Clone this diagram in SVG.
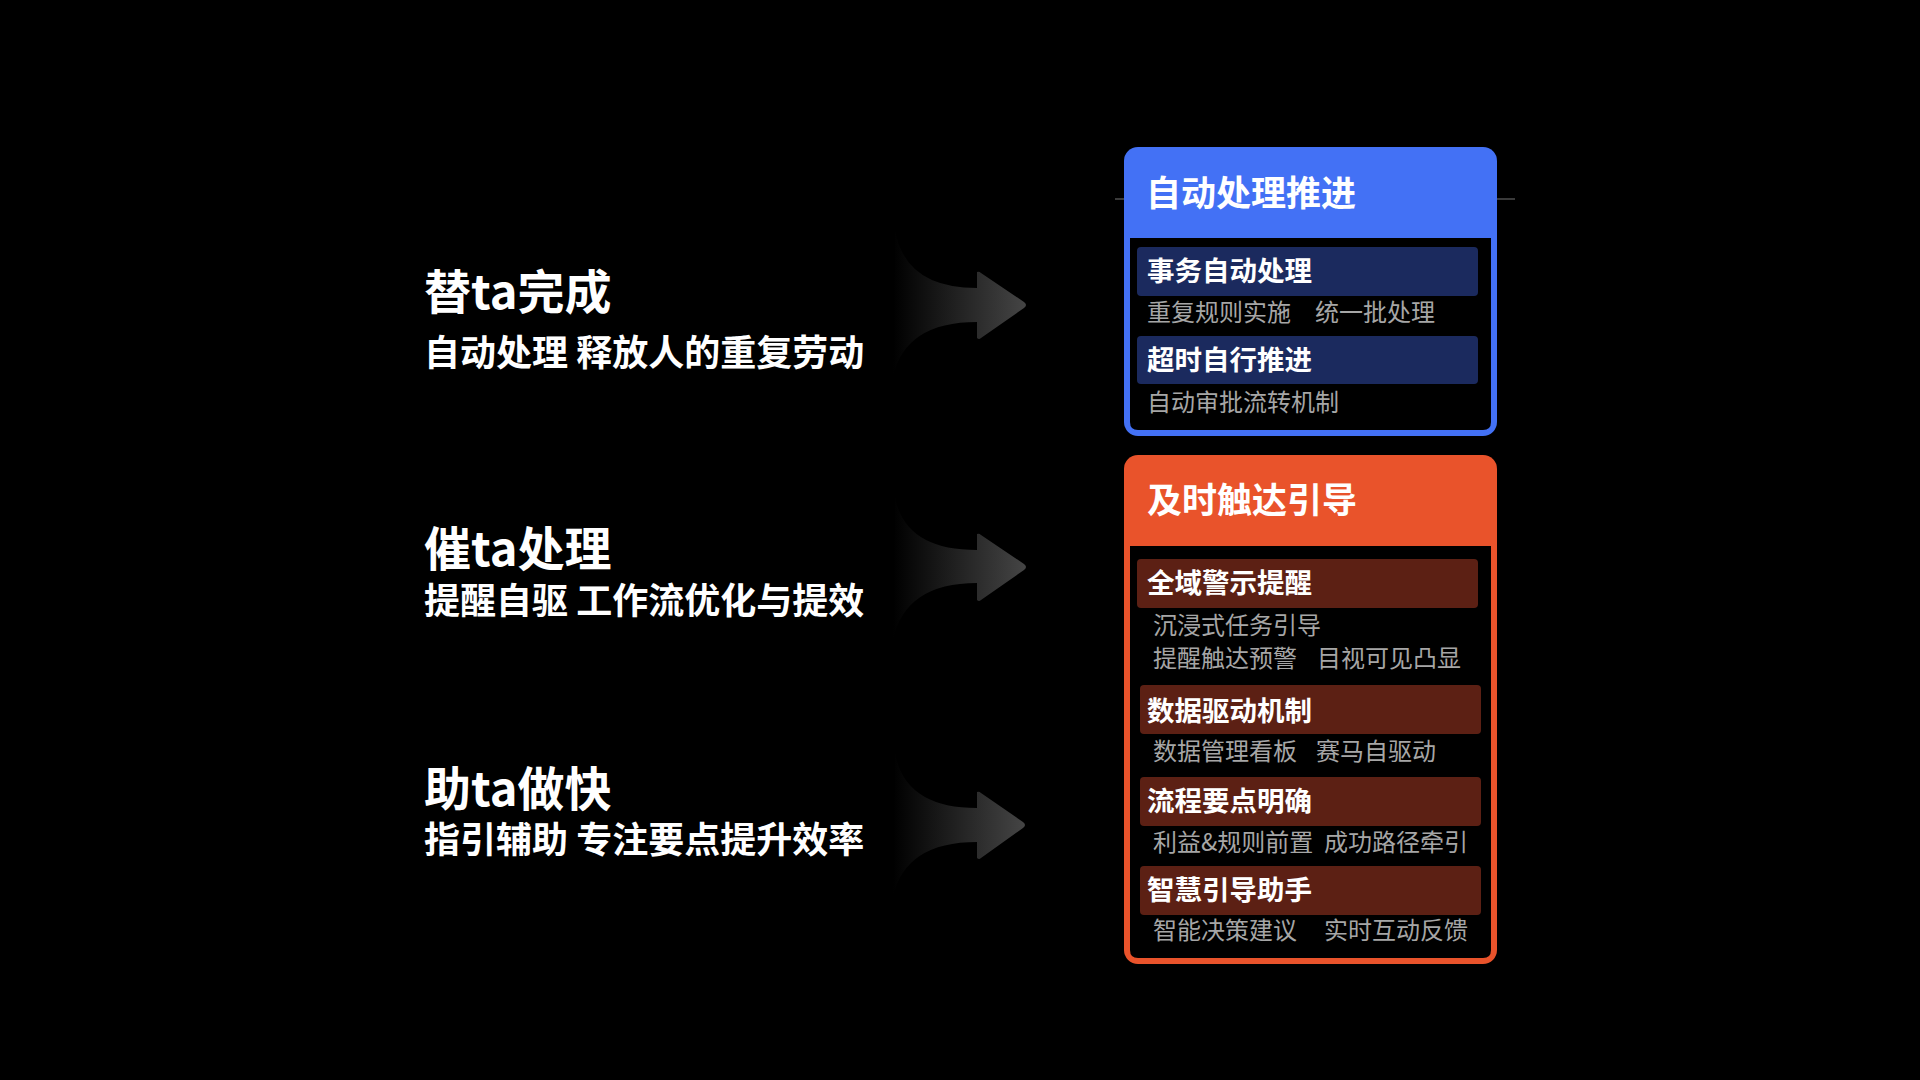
<svg xmlns="http://www.w3.org/2000/svg" width="1920" height="1080" viewBox="0 0 1920 1080">
  <defs>
    <linearGradient id="arrowGrad" x1="0" y1="0" x2="1" y2="0">
      <stop offset="0" stop-color="#000000"/>
      <stop offset="1" stop-color="#454545"/>
    </linearGradient>
    <style>
      text { font-family: "Noto Sans CJK SC", "Noto Sans", sans-serif; }
      .title { font-size: 47px; font-weight: 700; fill: #ffffff; }
      .sub { font-size: 36px; font-weight: 700; fill: #ffffff; }
      .boxTitle { font-size: 35px; font-weight: 700; fill: #ffffff; }
      .barText { font-size: 27.5px; font-weight: 700; fill: #ffffff; }
      .item { font-size: 24px; font-weight: 400; fill: #A6A6A6; }
      .barBlue { fill: #1B2A5E; }
      .barRed { fill: #5C2014; }
      .arrow { fill: url(#arrowGrad); stroke: none; }
    </style>
  </defs>
  <rect x="0" y="0" width="1920" height="1080" fill="#000000"/>

  <!-- left texts -->
  <g id="row1">
    <text class="title" x="424" y="309">替ta完成</text>
    <text class="sub" x="424" y="366">自动处理 释放人的重复劳动</text>
  </g>
  <g id="row2">
    <text class="title" x="424" y="566">催ta处理</text>
    <text class="sub" x="424" y="614">提醒自驱 工作流优化与提效</text>
  </g>
  <g id="row3">
    <text class="title" x="424" y="806">助ta做快</text>
    <text class="sub" x="424" y="853">指引辅助 专注要点提升效率</text>
  </g>

  <!-- connectors -->
  <g id="connectors">
    <path class="arrow" d="M895 230 Q905 288 977 288 L977 272 Q979 271 981 273 L1024 302 Q1028 305 1024 308 L981 338 Q979 340 977 338 L977 322 Q905 322 893 377 Z"/>
    <path class="arrow" d="M895 497 Q905 550 977 550 L977 534 Q979 533 981 535 L1024 564 Q1028 567 1024 570 L981 600 Q979 602 977 600 L977 583 Q905 583 893 640 Z"/>
    <path class="arrow" d="M895 753 Q905 808 977 808 L977 792 Q979 791 981 793 L1023 822 Q1027 825 1023 828 L981 858 Q979 860 977 858 L977 842 Q905 842 893 897 Z"/>
  </g>

  <!-- blue box -->
  <g id="box-auto">
    <line x1="1115" y1="199" x2="1515" y2="199" stroke="#3A3A3A" stroke-width="2"/>
    <rect x="1124" y="147" width="373" height="289" rx="14" fill="#4371F5"/>
    <path d="M1130 238 H1491 V422 Q1491 430 1483 430 H1138 Q1130 430 1130 422 Z" fill="#000000"/>
    <text class="boxTitle" x="1146" y="206">自动处理推进</text>
    <g id="bar-auto-1">
      <rect class="barBlue" x="1137" y="247" width="341" height="49" rx="4"/>
      <text class="barText" x="1147" y="281">事务自动处理</text>
      <text class="item" x="1147" y="321">重复规则实施</text>
      <text class="item" x="1315" y="321">统一批处理</text>
    </g>
    <g id="bar-auto-2">
      <rect class="barBlue" x="1137" y="336" width="341" height="48" rx="4"/>
      <text class="barText" x="1147" y="370">超时自行推进</text>
      <text class="item" x="1147" y="411">自动审批流转机制</text>
    </g>
  </g>

  <!-- orange box -->
  <g id="box-reach">
    <rect x="1124" y="455" width="373" height="509" rx="14" fill="#E9532B"/>
    <path d="M1130 546 H1491 V950 Q1491 958 1483 958 H1138 Q1130 958 1130 950 Z" fill="#000000"/>
    <text class="boxTitle" x="1147" y="513">及时触达引导</text>
    <g id="bar-reach-1">
      <rect class="barRed" x="1137" y="559" width="341" height="49" rx="4"/>
      <text class="barText" x="1147" y="593">全域警示提醒</text>
      <text class="item" x="1153" y="634">沉浸式任务引导</text>
      <text class="item" x="1153" y="667">提醒触达预警</text>
      <text class="item" x="1317" y="667">目视可见凸显</text>
    </g>
    <g id="bar-reach-2">
      <rect class="barRed" x="1140" y="685" width="341" height="49" rx="4"/>
      <text class="barText" x="1147" y="721">数据驱动机制</text>
      <text class="item" x="1153" y="760">数据管理看板</text>
      <text class="item" x="1316" y="760">赛马自驱动</text>
    </g>
    <g id="bar-reach-3">
      <rect class="barRed" x="1140" y="777" width="341" height="49" rx="4"/>
      <text class="barText" x="1147" y="811">流程要点明确</text>
      <text class="item" x="1153" y="851">利益&amp;规则前置</text>
      <text class="item" x="1324" y="851">成功路径牵引</text>
    </g>
    <g id="bar-reach-4">
      <rect class="barRed" x="1140" y="866" width="341" height="49" rx="4"/>
      <text class="barText" x="1147" y="900">智慧引导助手</text>
      <text class="item" x="1153" y="939">智能决策建议</text>
      <text class="item" x="1324" y="939">实时互动反馈</text>
    </g>
  </g>
</svg>
